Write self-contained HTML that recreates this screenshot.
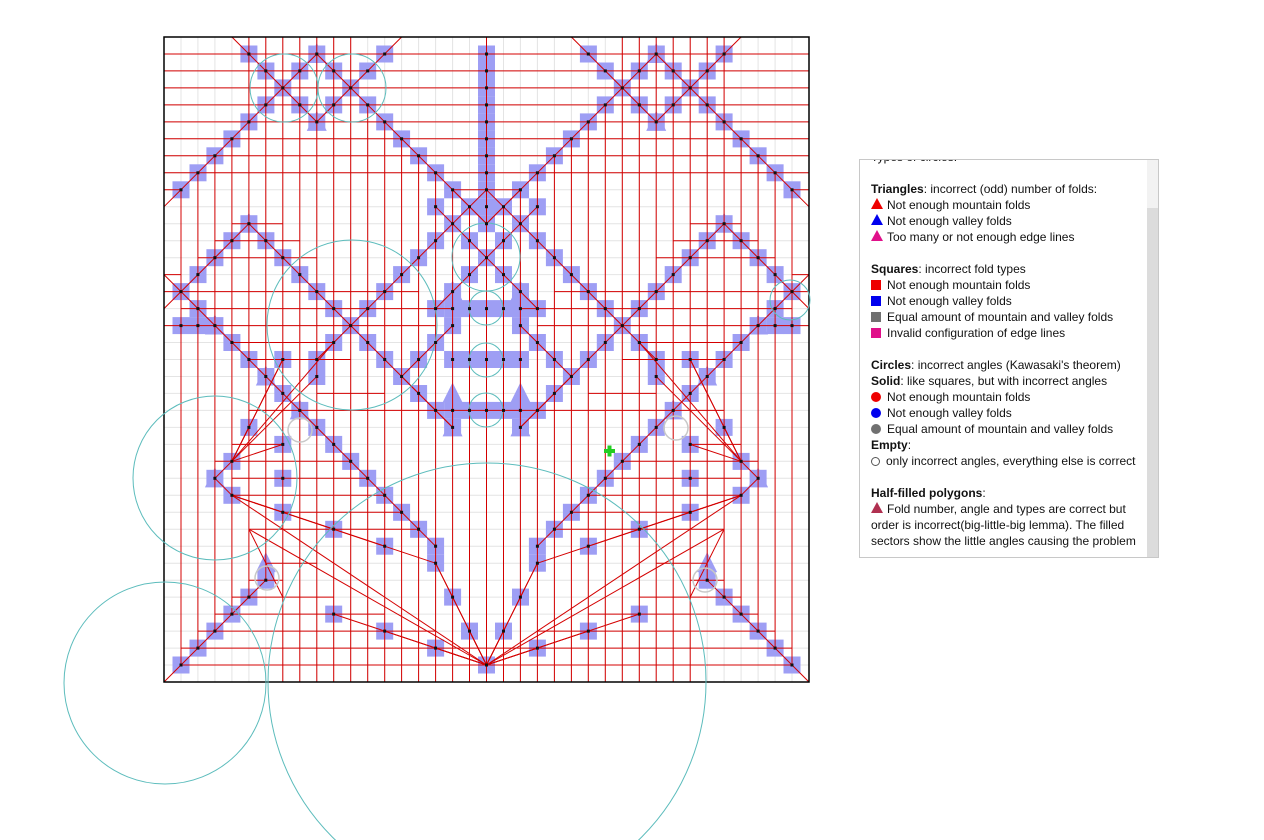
<!DOCTYPE html>
<html><head><meta charset="utf-8">
<style>
html,body{margin:0;padding:0;background:#fff;width:1264px;height:840px;overflow:hidden;font-family:"Liberation Sans",sans-serif}
#panel{position:absolute;left:859px;top:159px;width:298px;height:397px;border:1px solid #c8c8c8;background:#fff;overflow:hidden}
#sb{position:absolute;right:0;top:48px;width:11px;height:349px;background:#dcdcdc}
#sbt{position:absolute;right:0;top:0;width:11px;height:48px;background:#f2f2f2}
#txt{position:absolute;left:11px;top:-11px;font-size:12px;line-height:16px;color:#111;white-space:nowrap}
.ic{display:inline-block;width:10px;height:10px;margin-right:6px;vertical-align:-1px}
.tri{display:inline-block;width:0;height:0;border-left:6px solid transparent;border-right:6px solid transparent;margin-right:4px;vertical-align:0}
.dot{display:inline-block;width:10px;height:10px;border-radius:50%;margin-right:6px;vertical-align:-1px}
</style></head><body>
<div style="position:absolute;left:0;top:0;width:1264px;height:840px;overflow:hidden">
<svg id="cp" width="1264" height="840" style="display:block"></svg>
</div>
<div id="panel"><div id="sbt"></div><div id="sb"></div>
<div id="txt">
<div>Types of circles:</div>
<div>&nbsp;</div>
<div><b>Triangles</b>: incorrect (odd) number of folds:</div>
<div><span class="tri" style="border-bottom:11px solid #e00"></span>Not enough mountain folds</div>
<div><span class="tri" style="border-bottom:11px solid #00e"></span>Not enough valley folds</div>
<div><span class="tri" style="border-bottom:11px solid #e0108a"></span>Too many or not enough edge lines</div>
<div>&nbsp;</div>
<div><b>Squares</b>: incorrect fold types</div>
<div><span class="ic" style="background:#e00"></span>Not enough mountain folds</div>
<div><span class="ic" style="background:#00e"></span>Not enough valley folds</div>
<div><span class="ic" style="background:#707070"></span>Equal amount of mountain and valley folds</div>
<div><span class="ic" style="background:#e0108a"></span>Invalid configuration of edge lines</div>
<div>&nbsp;</div>
<div><b>Circles</b>: incorrect angles (Kawasaki's theorem)</div>
<div><b>Solid</b>: like squares, but with incorrect angles</div>
<div><span class="dot" style="background:#e00"></span>Not enough mountain folds</div>
<div><span class="dot" style="background:#00e"></span>Not enough valley folds</div>
<div><span class="dot" style="background:#707070"></span>Equal amount of mountain and valley folds</div>
<div><b>Empty</b>:</div>
<div><span class="dot" style="border:1.5px solid #555;width:7px;height:7px"></span>only incorrect angles, everything else is correct</div>
<div>&nbsp;</div>
<div><b>Half-filled polygons</b>:</div>
<div><span class="tri" style="border-bottom:11px solid #b03050"></span>Fold number, angle and types are correct but</div>
<div>order is incorrect(big-little-big lemma). The filled</div>
<div>sectors show the little angles causing the problem</div>
</div></div>
<script>
(function(){
var u=645/38,OX=164,OY=37,s=[];
function X(g){return OX+g*u}function Y(g){return OY+g*u}
function ln(a,b,c,d,col,w){s.push('<line x1="'+X(a).toFixed(1)+'" y1="'+Y(b).toFixed(1)+'" x2="'+X(c).toFixed(1)+'" y2="'+Y(d).toFixed(1)+'" stroke="'+col+'" stroke-width="'+w+'"/>')}
var i;
for(i=1;i<38;i++){ln(i,0,i,38,'#e4e4e4',1);ln(0,i,38,i,'#e4e4e4',1)}
var sq={};
function addSq(g,h){if(g<=0||g>=38||h<=0||h>=38)return;sq[g+','+h]=1;sq[(38-g)+','+h]=1}
var diags=[[4,0,7,3],[7,3,0,10],[7,3,9,1],[7,3,9,5],[11,3,9,1],[11,3,9,5],[11,3,14,0],[11,3,19,11],
[0,14,1,15],[1,15,0,16],[1,15,5,11],[5,11,11,17],[11,17,19,9],[1,15,16,30],[11,17,17,23],[11,17,9,19],
[0,38,6,32],[17,9,19,11],[19,13,16,10],[19,13,16,16],[14,20,17,17],[14,20,17,23],[3,26,4,25],[3,26,4,27]];
diags.forEach(function(d){var n=Math.abs(d[2]-d[0]),sx=Math.sign(d[2]-d[0]),sy=Math.sign(d[3]-d[1]);
 for(var k=0;k<=n;k++){addSq(d[0]+sx*k,d[1]+sy*k)}});
for(i=1;i<=11;i++)sq['19,'+i]=1;
[[17,16],[18,16],[19,16],[17,19],[18,19],[19,19],[17,22],[18,22],[19,22],[1,17],[2,17],[4,25],[4,27],[7,19],[10,18],[9,20],[5,23],[7,24],[7,28],[10,29],[13,30],[16,31],[17,33],[18,35],[16,36],[13,35],[10,34],[19,37],[8,22],[7,26]].forEach(function(p){addSq(p[0],p[1])});
for(var k in sq){var p=k.split(',');s.push('<rect x="'+(X(+p[0])-u/2).toFixed(1)+'" y="'+(Y(+p[1])-u/2).toFixed(1)+'" width="'+u.toFixed(1)+'" height="'+u.toFixed(1)+'" fill="#9e9ef4"/>')}
[[9,1],[9,5],[5,11],[3,17],[17,23],[6,20],[8,22],[3,26],[6,31],[17,15],[17,21]].forEach(function(p){[p[0],38-p[0]].forEach(function(g){var x=X(g),y=Y(p[1]);s.push('<polygon points="'+(x-10)+','+(y+9)+' '+(x+10)+','+(y+9)+' '+x+','+(y-11)+'" fill="#9e9ef4"/>')})});
var R='#d40000';
for(i=1;i<38;i++){var g=i<=19?i:38-i,y0=0,y1=38;
 if(g<=3)y0=10-g; else if(g==4)y0=6;
 if(g>=12&&g<=18)y0=g-8;
 if(g<=6)y1=38-g;
 ln(i,y0,i,y1,R,1)}
for(i=1;i<=8;i++)ln(0,i,38,i,R,1);
function hs(a,b,r){ln(a,r,b,r,R,1);ln(38-a,r,38-b,r,R,1)}
hs(0,1,9);hs(17,19,9);hs(0,1,14);hs(0,15,15);hs(1,17,16);hs(0,16,17);hs(4,10,18);
hs(4,7,11);hs(3,8,12);hs(2,9,13);hs(5,11,19);hs(9,13,21);hs(5,19,22);hs(4,7,24);
hs(3,11,25);hs(4,12,26);hs(4,13,27);hs(7,14,28);hs(5,15,29);hs(6,9,31);hs(5,7,32);hs(4,10,33);hs(3,13,34);hs(2,16,35);hs(1,19,36);hs(1,19,37);
diags.forEach(function(d){ln(d[0],d[1],d[2],d[3],R,1);ln(38-d[0],d[1],38-d[2],d[3],R,1)});
var fans=[[4,25,10,18],[4,25,9,20],[4,25,7,19],[4,25,6,21],[4,25,5,23],[4,25,7,24],[6,21,7,19],
[4,27,7,28],[4,27,10,29],[4,27,13,30],[4,27,16,31],[19,37,4,27],[19,37,5,29],[19,37,10,34],[19,37,13,35],[19,37,16,36],[19,37,16,31],[19,37,17,33],[19,37,18,35],[5,29,7,33],[16,31,17,33]];
fans.forEach(function(d){ln(d[0],d[1],d[2],d[3],R,1);ln(38-d[0],d[1],38-d[2],d[3],R,1)});
s.push('<rect x="'+OX+'" y="'+OY+'" width="645" height="645" fill="none" stroke="#000" stroke-width="1.5"/>');
[[284,88,34],[352,88,34],[486,257,34],[486,308,17],[486,360,17],[486,410,17],[352,325,85],[215,478,82],[165,683,101],[487,682,219],[790,300,20]].forEach(function(c){s.push('<circle cx="'+c[0]+'" cy="'+c[1]+'" r="'+c[2]+'" fill="none" stroke="#5cbcbc" stroke-width="1"/>')});
[[300,430],[267,578],[676,428],[705,580]].forEach(function(c){s.push('<circle cx="'+c[0]+'" cy="'+c[1]+'" r="12" fill="none" stroke="#c8c8c8" stroke-width="1.5"/>')});
for(var k2 in sq){var p2=k2.split(',');s.push('<rect x="'+(X(+p2[0])-1.5).toFixed(1)+'" y="'+(Y(+p2[1])-1.5).toFixed(1)+'" width="3" height="3" fill="#111"/>')}
s.push('<rect x="604" y="449" width="11" height="4" fill="#22cc22"/><rect x="607.5" y="445.5" width="4" height="11" fill="#22cc22"/>');
document.getElementById('cp').innerHTML=s.join('');
})();
</script>
</body></html>
